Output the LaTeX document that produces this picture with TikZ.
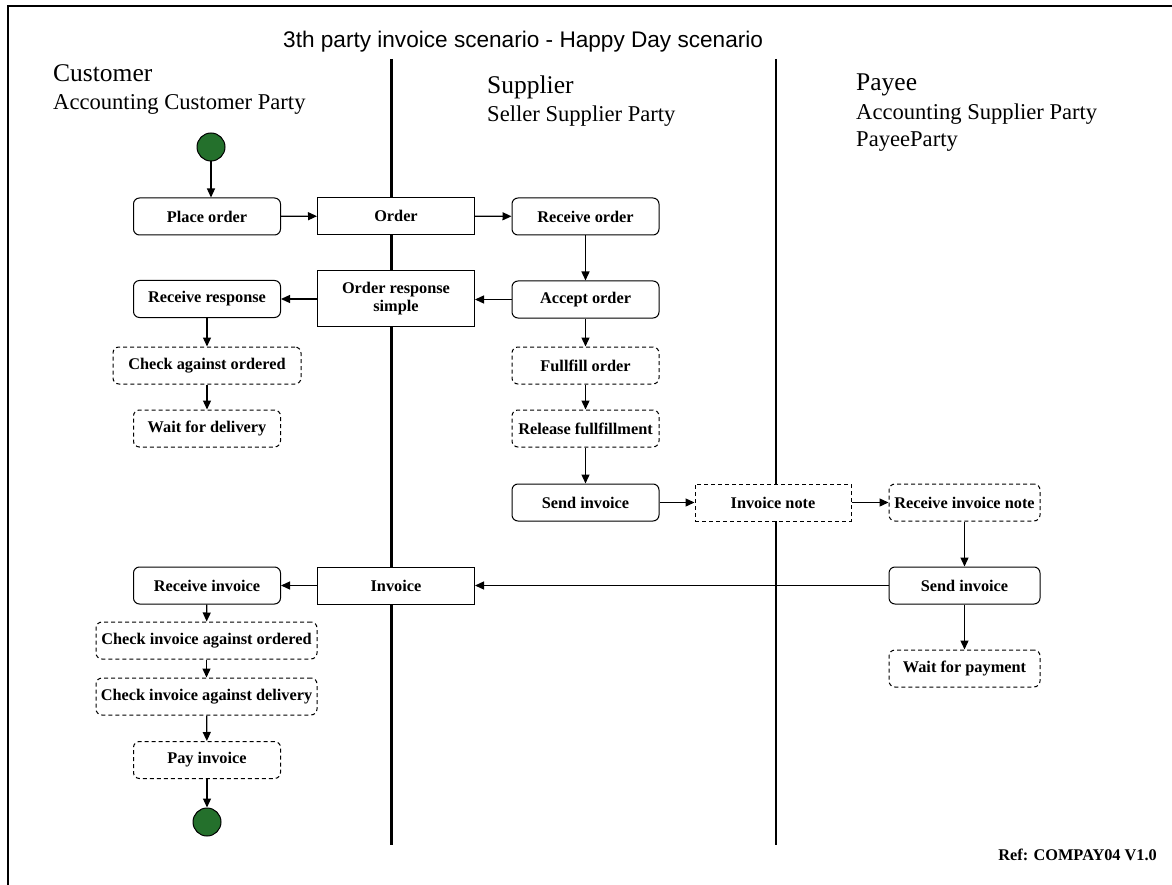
\documentclass[tikz,border=0pt]{standalone}
\usepackage{fontspec}
\setmainfont{Liberation Serif}
\newfontfamily\titlefont{Liberation Sans}
\usetikzlibrary{arrows.meta}
\definecolor{startgreen}{RGB}{36,112,44}
\tikzset{
  act/.style={draw, line width=1pt, fill=white, rounded corners=6pt, minimum width=147pt, minimum height=37pt, inner sep=1pt, align=center, font=\fontsize{16.3}{17.5}\selectfont\bfseries},
  dact/.style={act, dashed, dash pattern=on 4pt off 3pt},
  obj/.style={draw, line width=1pt, fill=white, minimum width=157pt, minimum height=37pt, inner sep=1pt, align=center, font=\fontsize{16.3}{17.5}\selectfont\bfseries},
  dobj/.style={obj, dashed, dash pattern=on 4pt off 3pt},
  flow/.style={line width=1.3pt, -{Triangle[length=9pt,width=8pt]}},
  lane/.style={line width=2.5pt},
  dot/.style={circle, draw, line width=1pt, fill=startgreen, minimum size=28pt, inner sep=0pt},
  lanehead/.style={anchor=base west, inner sep=0pt, font=\fontsize{25.5}{28}\selectfont},
  lanesub/.style={anchor=base west, inner sep=0pt, font=\fontsize{22.6}{26}\selectfont},
}
\begin{document}
\begin{tikzpicture}[x=1pt,y=-1pt]
\useasboundingbox (0,0) rectangle (1172,885);
% frame
\coordinate (ftl) at (8,6);
\coordinate (ftr) at (1172,6);
\coordinate (fbl) at (8,885);
\draw[line width=2.6pt] (fbl) -- (ftl) -- (ftr);
% lanes
\coordinate (l1t) at (391.5,59);
\coordinate (l1b) at (391.5,845);
\coordinate (l2t) at (776,59);
\coordinate (l2b) at (776,845);
\draw[lane] (l1t) -- (l1b);
\draw[lane] (l2t) -- (l2b);
% headings
\node[anchor=base west, inner sep=0pt, font=\titlefont\fontsize{22.6}{26}\selectfont] (title) at (283,48) {3th party invoice scenario - Happy Day scenario};
\node[lanehead] (hc) at (53,82) {Customer};
\node[lanesub] (hc2) at (53,110) {Accounting Customer Party};
\node[lanehead] (hs) at (487,94) {Supplier};
\node[lanesub] (hs2) at (487,122) {Seller Supplier Party};
\node[lanehead] (hp) at (856,91) {Payee};
\node[lanesub] (hp2) at (856,120) {Accounting Supplier Party};
\node[lanesub] (hp3) at (856,147) {PayeeParty};
\node[anchor=base east, inner sep=0pt, font=\fontsize{16.3}{17.5}\selectfont\bfseries] (ref) at (1157,860) {Ref: COMPAY04 V1.0};
% nodes
\node[dot] (start) at (211,147) {};
\node[act] (po) at (207,216.5) {Place order};
\node[obj] (ord) at (396,216) {Order};
\node[act] (ro) at (585.5,216.5) {Receive order};
\node[act] (ao) at (585.5,299.5) {Accept order};
\node[obj, minimum height=55pt] (ors) at (396,298.5) {Order response\\simple};
\node[act] (rr) at (207,299) {Receive response};
\node[dact, minimum width=188pt] (cao) at (207,365.5) {Check against ordered};
\node[dact] (wfd) at (207,428.5) {Wait for delivery};
\node[dact] (fo) at (585.5,365.5) {Fullfill order};
\node[dact] (rf) at (585.5,428.5) {Release fullfillment};
\node[act] (si) at (585.5,502.5) {Send invoice};
\node[dobj, minimum width=156pt] (inote) at (773,502.5) {Invoice note};
\node[dact, minimum width=151pt] (rin) at (964.5,502.5) {Receive invoice note};
\node[act, minimum width=151pt] (sip) at (964.5,585.5) {Send invoice};
\node[dact, minimum width=151pt] (wfp) at (964.5,668.5) {Wait for payment};
\node[obj] (inv) at (396,585.5) {Invoice};
\node[act] (ri) at (207,585.5) {Receive invoice};
\node[dact, minimum width=221pt] (ciao) at (206.5,640.5) {Check invoice against ordered};
\node[dact, minimum width=221pt] (ciad) at (206.5,696.5) {Check invoice against delivery};
\node[dact] (pi) at (207,760) {Pay invoice};
\node[dot] (end) at (207,822) {};
% flows
\draw[flow] (start) -- (start |- po.north);
\draw[flow] (po) -- (ord);
\draw[flow] (ord) -- (ro);
\draw[flow] (ro) -- (ao);
\draw[flow] (ao.west) -- (ors.east |- ao.west);
\draw[flow] (ors.west |- rr.east) -- (rr.east);
\draw[flow] (rr) -- (cao);
\draw[flow] (cao) -- (wfd);
\draw[flow] (ao) -- (fo);
\draw[flow] (fo) -- (rf);
\draw[flow] (rf) -- (si);
\draw[flow] (si) -- (inote);
\draw[flow] (inote) -- (rin);
\draw[flow] (rin) -- (sip);
\draw[flow] (sip) -- (inv);
\draw[flow] (sip) -- (wfp);
\draw[flow] (inv) -- (ri);
\draw[flow] (ri) -- (ciao);
\draw[flow] (ciao) -- (ciad);
\draw[flow] (ciad) -- (pi);
\draw[flow] (pi) -- (end);
\end{tikzpicture}
\end{document}
